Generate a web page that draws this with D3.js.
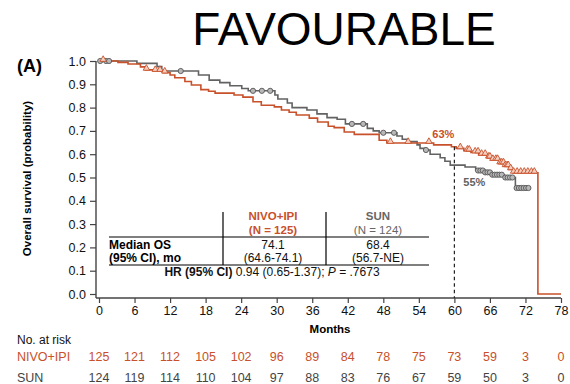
<!DOCTYPE html>
<html>
<head>
<meta charset="utf-8">
<script src="https://cdn.jsdelivr.net/npm/d3@7"></script>
<style>
  html, body { margin: 0; padding: 0; background: #fff; }
  svg { display: block; font-family: "Liberation Sans", Arial, Helvetica, sans-serif; }
</style>
</head>
<body>
<svg id="chart" width="570" height="384"></svg>
<script>
// Overall survival, favourable-risk subgroup: NIVO+IPI vs SUN (Kaplan-Meier)

// X axis ticks (months)
const monthTicks = [0, 6, 12, 18, 24, 30, 36, 42, 48, 54, 60, 66, 72, 78];
const survTicks = [0, 0.1, 0.2, 0.3, 0.4, 0.5, 0.6, 0.7, 0.8, 0.9, 1.0];

// KM steps: [month of event, survival after event]
const nivoSteps = [
  [3.2, 0.994], [4.9, 0.987], [7.0, 0.975], [7.8, 0.962], [9.2, 0.957], [10.8, 0.95],
  [12.0, 0.94], [12.8, 0.928], [14.5, 0.912], [15.6, 0.897], [17.2, 0.877], [18.5, 0.87],
  [19.6, 0.862], [22.8, 0.854], [24.3, 0.845], [26.0, 0.825], [27.4, 0.81], [29.6, 0.803],
  [30.8, 0.79], [32.1, 0.78], [33.3, 0.768], [35.5, 0.755], [36.9, 0.738], [38.7, 0.72],
  [39.7, 0.714], [41.4, 0.695], [43.1, 0.685], [47.3, 0.66], [48.6, 0.648], [56.5, 0.64],
  [59.5, 0.632], [60.3, 0.625], [61.6, 0.615], [62.8, 0.607], [64.1, 0.597], [65.5, 0.585],
  [66.2, 0.575], [67.5, 0.56], [68.4, 0.548], [69.2, 0.535], [69.9, 0.52], [74.1, 0]
];
const nivoEnd = 78;
const nivoCensored = [
  0.7, 8.0, 9.5, 10.3, 11.1, 49.2, 52.2, 55.7, 61.0, 62.2, 62.5, 63.5, 64.0, 64.6, 65.2,
  65.8, 66.0, 66.5, 67.0, 67.3, 67.7, 68.0, 68.3, 68.6, 68.9, 69.1, 69.5, 70.0, 70.6,
  71.2, 71.8, 72.4, 73.0, 73.5
];

const sunSteps = [
  [6.4, 0.99], [9.8, 0.976], [10.6, 0.957], [16.8, 0.94], [18.6, 0.918], [20.4, 0.907],
  [22.1, 0.894], [24.1, 0.882], [25.2, 0.872], [29.7, 0.854], [30.2, 0.837], [31.8, 0.82],
  [32.6, 0.80], [35.1, 0.79], [36.8, 0.773], [38.5, 0.757], [40.2, 0.75], [41.6, 0.73],
  [45.3, 0.711], [46.3, 0.70], [47.3, 0.692], [50.3, 0.678], [51.2, 0.664], [52.2, 0.654],
  [53.7, 0.64], [54.2, 0.625], [55.0, 0.618], [55.9, 0.60], [57.6, 0.585], [58.4, 0.57],
  [59.3, 0.553], [61.8, 0.545], [63.6, 0.53], [64.9, 0.522], [66.2, 0.512], [68.4, 0.50],
  [70.3, 0.455]
];
const sunEnd = 72.8;
const sunCensored = [
  0.2, 1.2, 1.7, 13.8, 26.0, 27.5, 28.9, 42.7, 44.6, 48.0, 49.8, 55.2,
  64.0, 64.4, 64.8, 65.2, 65.6, 66.0, 66.4, 66.8, 67.2, 67.6, 68.0,
  68.6, 69.0, 69.4, 69.8, 70.5, 70.9, 71.3, 71.7, 72.1, 72.5
];

// Survival rates marked at 60 months
const landmarkMonth = 60;
const nivoLandmark = "63%";
const sunLandmark = "55%";

// Summary table
const arms = ["NIVO+IPI", "SUN"];
const armN = ["(N = 125)", "(N = 124)"];
const medianOS = ["74.1", "68.4"];
const medianCI = ["(64.6-74.1)", "(56.7-NE)"];
const hrText = ["HR (95% CI)", " 0.94 (0.65-1.37); ", "P", " = .7673"];

// Numbers at risk
const riskLabels = ["NIVO+IPI", "SUN"];
const nivoAtRisk = [125, 121, 112, 105, 102, 96, 89, 84, 78, 75, 73, 59, 3, 0];
const sunAtRisk = [124, 119, 114, 110, 104, 97, 88, 83, 76, 67, 59, 50, 3, 0];

const ORANGE = "#c8502a";
const GRAY = "#626262";

const svg = d3.select("#chart");
const x = d3.scaleLinear().domain([0, 78]).range([99, 561]);
const y = d3.scaleLinear().domain([0, 1]).range([294, 61]);
const axisY = 298, axisX = 96;

// Title and panel letter
svg.append("text").attr("x", 344).attr("y", 45).attr("text-anchor", "middle")
  .attr("font-size", 46).attr("fill", "#000").text("FAVOURABLE");
svg.append("text").attr("x", 17).attr("y", 72).attr("font-size", 18)
  .attr("font-weight", "bold").text("(A)");

// Y axis
const gy = svg.append("g").attr("transform", `translate(${axisX},0)`)
  .call(d3.axisLeft(y).tickValues(survTicks).tickFormat(d3.format(".1f")).tickSize(6).tickPadding(4));
gy.select(".domain").remove();
gy.append("line").attr("x1", 0).attr("x2", 0).attr("y1", y(1)).attr("y2", axisY)
  .attr("stroke", "#444").attr("stroke-width", 1.4);
gy.selectAll(".tick line").attr("stroke", "#444").attr("stroke-width", 1.2);
gy.selectAll(".tick text").attr("font-size", 12.5).attr("fill", "#111")
  .attr("font-family", "'Liberation Sans', Arial, sans-serif");

svg.append("text").attr("transform", `translate(31,${y(0.5) + 1}) rotate(-90)`)
  .attr("text-anchor", "middle").attr("font-size", 11.5).attr("font-weight", "bold")
  .text("Overall survival (probability)");

// X axis
const gx = svg.append("g").attr("transform", `translate(0,${axisY})`)
  .call(d3.axisBottom(x).tickValues(monthTicks).tickSize(5).tickPadding(3));
gx.select(".domain").remove();
gx.append("line").attr("x1", axisX).attr("x2", x(78)).attr("y1", 0).attr("y2", 0)
  .attr("stroke", "#444").attr("stroke-width", 1.4);
gx.selectAll(".tick line").attr("stroke", "#444").attr("stroke-width", 1.2);
gx.selectAll(".tick text").attr("font-size", 12.5).attr("fill", "#111")
  .attr("font-family", "'Liberation Sans', Arial, sans-serif");

svg.append("text").attr("x", (x(0) + x(78)) / 2).attr("y", 333).attr("text-anchor", "middle")
  .attr("font-size", 11.5).attr("font-weight", "bold").text("Months");

// KM curves
function kmPoints(steps, end) {
  const pts = [[0, 1]].concat(steps);
  pts.push([end, steps[steps.length - 1][1]]);
  return pts;
}
function survAt(steps, t) {
  let s = 1;
  for (const [tt, v] of steps) { if (tt <= t) s = v; else break; }
  return s;
}
const line = d3.line().x(d => x(d[0])).y(d => y(d[1])).curve(d3.curveStepAfter);

svg.append("path").datum(kmPoints(sunSteps, sunEnd)).attr("d", line)
  .attr("fill", "none").attr("stroke", GRAY).attr("stroke-width", 1.6);
svg.append("path").datum(kmPoints(nivoSteps, nivoEnd)).attr("d", line)
  .attr("fill", "none").attr("stroke", ORANGE).attr("stroke-width", 1.6);

// Censoring marks
svg.append("g").selectAll("circle").data(sunCensored).join("circle")
  .attr("cx", d => x(d)).attr("cy", d => y(survAt(sunSteps, d))).attr("r", 2.6)
  .attr("fill", "#b8b8b8").attr("stroke", "#555").attr("stroke-width", 0.9);

const tri = d3.symbol().type(d3.symbolTriangle).size(18);
svg.append("g").selectAll("path").data(nivoCensored).join("path")
  .attr("transform", d => `translate(${x(d)},${y(survAt(nivoSteps, d)) - 1.5})`)
  .attr("d", tri).attr("fill", "#f4cfbf").attr("stroke", ORANGE).attr("stroke-width", 0.9);

// 60-month landmark
svg.append("line").attr("x1", x(landmarkMonth)).attr("x2", x(landmarkMonth))
  .attr("y1", y(survAt(nivoSteps, landmarkMonth))).attr("y2", axisY)
  .attr("stroke", "#222").attr("stroke-width", 1.2).attr("stroke-dasharray", "3.5,3");
svg.append("text").attr("x", x(landmarkMonth) - 11).attr("y", 138).attr("text-anchor", "middle")
  .attr("font-size", 11).attr("font-weight", "bold").attr("fill", ORANGE).text(nivoLandmark);
svg.append("text").attr("x", x(landmarkMonth) + 20).attr("y", 186).attr("text-anchor", "middle")
  .attr("font-size", 11).attr("font-weight", "bold").attr("fill", GRAY).text(sunLandmark);

// Summary table
const colX = [273, 378];
const tbl = svg.append("g").attr("font-size", 12);
[223, 326].forEach(vx => tbl.append("line").attr("x1", vx).attr("x2", vx)
  .attr("y1", 212).attr("y2", 265).attr("stroke", "#000").attr("stroke-width", 1.2));
[237, 265].forEach(hy => tbl.append("line").attr("x1", 109).attr("x2", 429)
  .attr("y1", hy).attr("y2", hy).attr("stroke", "#000").attr("stroke-width", 1.2));
arms.forEach((a, i) => {
  const col = i === 0 ? ORANGE : "#666";
  tbl.append("text").attr("x", colX[i]).attr("y", 220).attr("text-anchor", "middle")
    .attr("font-size", 11.5).attr("font-weight", "bold").attr("fill", col).text(a);
  tbl.append("text").attr("x", colX[i]).attr("y", 233.5).attr("text-anchor", "middle")
    .attr("font-size", 11.5).attr("font-weight", i === 0 ? "bold" : "normal").attr("fill", col).text(armN[i]);
  tbl.append("text").attr("x", colX[i]).attr("y", 249).attr("text-anchor", "middle")
    .attr("fill", "#111").text(medianOS[i]);
  tbl.append("text").attr("x", colX[i]).attr("y", 262).attr("text-anchor", "middle")
    .attr("fill", "#111").text(medianCI[i]);
});
tbl.append("text").attr("x", 109).attr("y", 249).attr("font-weight", "bold").text("Median OS");
tbl.append("text").attr("x", 109).attr("y", 262).attr("font-weight", "bold").text("(95% CI), mo");
const hr = tbl.append("text").attr("x", 272).attr("y", 276).attr("text-anchor", "middle").attr("fill", "#111");
hr.append("tspan").attr("font-weight", "bold").text(hrText[0]);
hr.append("tspan").text(hrText[1]);
hr.append("tspan").attr("font-style", "italic").text(hrText[2]);
hr.append("tspan").text(hrText[3]);

// Numbers at risk
svg.append("text").attr("x", 17).attr("y", 344).attr("font-size", 12).attr("fill", "#111").text("No. at risk");
const riskRows = [
  { label: riskLabels[0], vals: nivoAtRisk, color: ORANGE, yy: 361 },
  { label: riskLabels[1], vals: sunAtRisk, color: "#444", yy: 382 }
];
riskRows.forEach(r => {
  svg.append("text").attr("x", 17).attr("y", r.yy).attr("font-size", 12.5)
    .attr("fill", r.color).text(r.label);
  svg.append("g").selectAll("text").data(r.vals).join("text")
    .attr("x", (d, i) => x(monthTicks[i])).attr("y", r.yy).attr("text-anchor", "middle")
    .attr("font-size", 12.5).attr("fill", r.color).text(d => d);
});
</script>
</body>
</html>
